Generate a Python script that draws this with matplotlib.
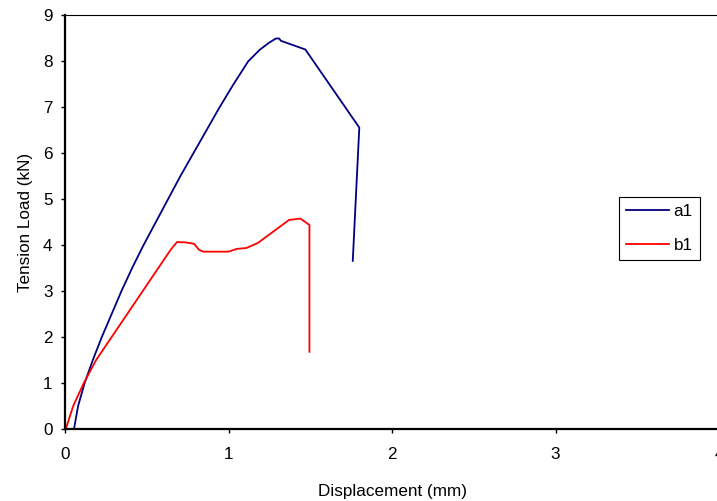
import matplotlib
matplotlib.use("Agg")
import matplotlib.pyplot as plt

# a1 / b1 load-displacement curves
a1_x = [0.055, 0.08, 0.12, 0.17, 0.225, 0.285, 0.345, 0.41, 0.48, 0.555, 0.63,
        0.705, 0.785, 0.865, 0.945, 1.03, 1.12, 1.19, 1.245, 1.29, 1.31, 1.32,
        1.47, 1.80, 1.76]
a1_y = [0.0, 0.5, 1.0, 1.5, 2.0, 2.5, 3.0, 3.5, 4.0, 4.5, 5.0,
        5.5, 6.0, 6.5, 7.0, 7.5, 8.0, 8.25, 8.4, 8.5, 8.5, 8.45,
        8.26, 6.56, 3.66]

b1_x = [0.005, 0.05, 0.115, 0.19, 0.285, 0.38, 0.475, 0.57, 0.646, 0.685,
        0.74, 0.79, 0.82, 0.845, 1.0, 1.05, 1.11, 1.18, 1.26, 1.37, 1.44,
        1.495, 1.495]
b1_y = [0.0, 0.5, 1.0, 1.5, 2.0, 2.5, 3.0, 3.5, 3.9, 4.07,
        4.06, 4.03, 3.9, 3.86, 3.86, 3.92, 3.94, 4.05, 4.26, 4.55, 4.58,
        4.44, 1.68]

x_ticks = [0, 1, 2, 3, 4]
y_ticks = [0, 1, 2, 3, 4, 5, 6, 7, 8, 9]

plt.rcParams["font.family"] = ["Liberation Sans", "DejaVu Sans"]
FS = 12.3

fig = plt.figure(figsize=(7.17, 5.01), dpi=100)
# plot area runs just past the right edge of the picture, like the original
ax = fig.add_axes([65 / 717, 72 / 501, 654 / 717, 413.5 / 501])

ax.plot(a1_x, a1_y, color="#000080", linewidth=1.3, label="a1")
ax.plot(b1_x, b1_y, color="#ff0000", linewidth=1.3, label="b1")

ax.set_xlim(0, 4)
ax.set_ylim(0, 9)
ax.set_xticks(x_ticks)
ax.set_yticks(y_ticks)
ax.tick_params(direction="out", length=3, width=1, labelsize=FS, pad=6)
ax.tick_params(axis="x", pad=10)

for side in ("left", "bottom"):
    ax.spines[side].set_linewidth(1.6)
ax.spines["top"].set_linewidth(0.8)
ax.spines["right"].set_linewidth(0.8)

ax.set_xlabel("Displacement (mm)", fontsize=FS, labelpad=16)
ax.set_ylabel("Tension Load (kN)", fontsize=FS, labelpad=7)

leg = ax.legend(loc="upper left", bbox_to_anchor=(619 / 717, 1 - 197 / 501),
                bbox_transform=fig.transFigure, fancybox=False, shadow=False,
                edgecolor="black", fontsize=FS, handlelength=2.55,
                handletextpad=0.25, borderaxespad=0, borderpad=0.4,
                labelspacing=1.15, framealpha=1)
leg.get_frame().set_linewidth(0.8)

fig.savefig("out.png", dpi=100)
